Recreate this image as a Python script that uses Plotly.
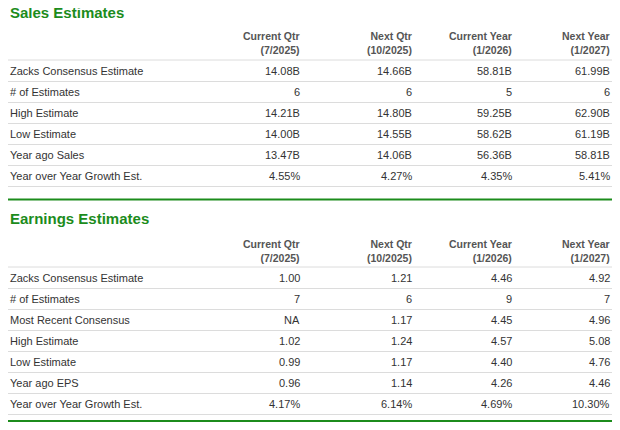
import plotly.graph_objects as go

cols = ["Current Qtr<br>(7/2025)", "Next Qtr<br>(10/2025)", "Current Year<br>(1/2026)", "Next Year<br>(1/2027)"]
sales_labels = ["Zacks Consensus Estimate", "# of Estimates", "High Estimate", "Low Estimate", "Year ago Sales", "Year over Year Growth Est."]
sales_values = [
    ["14.08B", "14.66B", "58.81B", "61.99B"],
    ["6", "6", "5", "6"],
    ["14.21B", "14.80B", "59.25B", "62.90B"],
    ["14.00B", "14.55B", "58.62B", "61.19B"],
    ["13.47B", "14.06B", "56.36B", "58.81B"],
    ["4.55%", "4.27%", "4.35%", "5.41%"],
]
earn_labels = ["Zacks Consensus Estimate", "# of Estimates", "Most Recent Consensus", "High Estimate", "Low Estimate", "Year ago EPS", "Year over Year Growth Est."]
earn_values = [
    ["1.00", "1.21", "4.46", "4.92"],
    ["7", "6", "9", "7"],
    ["NA", "1.17", "4.45", "4.96"],
    ["1.02", "1.24", "4.57", "5.08"],
    ["0.99", "1.17", "4.40", "4.76"],
    ["0.96", "1.14", "4.26", "4.46"],
    ["4.17%", "6.14%", "4.69%", "10.30%"],
]

colx = [302, 414, 514, 612]
FONT = "Liberation Sans, Arial, sans-serif"
GREEN = "#1c8c1c"
TXT = "#333333"
ann, shapes = [], []

def line(y, color="#dcdcdc", w=1, x0=8, x1=612):
    shapes.append(dict(type="line", x0=x0, x1=x1, y0=y, y1=y, line=dict(color=color, width=w), xref="x", yref="y"))

def section(title, ty, hy, labels, values, r0):
    ann.append(dict(x=8, y=ty, text="<b>%s</b>" % title, xanchor="left", yanchor="middle",
                    showarrow=False, font=dict(size=15, color=GREEN, family=FONT)))
    for cx, c in zip(colx, cols):
        ann.append(dict(x=cx, y=hy, text="<b>%s</b>" % c, xanchor="right", yanchor="middle", align="right",
                        showarrow=False, font=dict(size=10.5, color="#555", family=FONT)))
    line(r0 - 11)
    for i, (lab, vals) in enumerate(zip(labels, values)):
        y = r0 + 21 * i
        ann.append(dict(x=8, y=y, text=lab, xanchor="left", yanchor="middle", showarrow=False,
                        font=dict(size=11, color=TXT, family=FONT)))
        for cx, v in zip(colx, vals):
            ann.append(dict(x=cx, y=y, text=v, xanchor="right", yanchor="middle", showarrow=False,
                            font=dict(size=11, color=TXT, family=FONT)))
        line(y + 10.5)

section("Sales Estimates", 12, 43, sales_labels, sales_values, 71)
line(199.5, GREEN, 2, 8, 612)
section("Earnings Estimates", 218, 251, earn_labels, earn_values, 278)
line(421, GREEN, 2, 8, 612)

fig = go.Figure()
fig.update_layout(width=604, height=414, margin=dict(l=0, r=0, t=0, b=0),
                  paper_bgcolor="white", plot_bgcolor="white",
                  xaxis=dict(range=[8, 612], visible=False, fixedrange=True),
                  yaxis=dict(range=[422, 8], visible=False, fixedrange=True),
                  annotations=ann, shapes=shapes, showlegend=False)
fig.write_html("out.html", config={"displayModeBar": False})
